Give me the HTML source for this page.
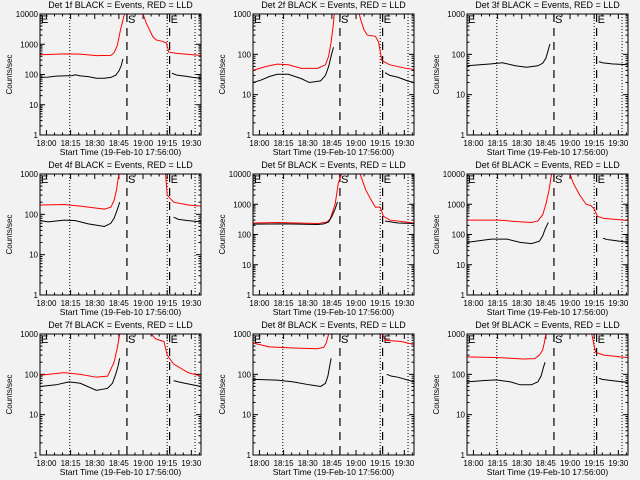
<!DOCTYPE html>
<html><head><meta charset="utf-8">
<style>
html,body{margin:0;padding:0;background:#f2f2f2;}
svg{display:block;font-family:"Liberation Sans",sans-serif;}
</style></head>
<body>
<svg id="c" width="640" height="480" viewBox="0 0 640 480">
<rect width="640" height="480" fill="#f2f2f2"/>
</svg>
<script>
// minutes since 17:56:00
const xTickLabels = ["18:00","18:15","18:30","18:45","19:00","19:15","19:30"];
const xTickMinutes = [4,19,34,49,64,79,94];
const dottedLines = [18.5, 79, 96.3];
const dashedLines = [54, 80.5];
const detectorNames = ["1f","2f","3f","4f","5f","6f","7f","8f","9f"];
const yMaxDecades = [4,3,3,3,4,4,3,3,3];

const p1BlackT=[0,5,10,15,20,22,25,30,35,40,44,47,49,50.5,51.5];
const p1BlackV=[80,82,88,90,92,98,90,85,75,75,80,95,130,200,330];
const p1PostT=[82,85,90,95,100];
const p1PostV=[110,95,88,80,75];
const p1RedT=[0,5,15,25,35,44,46,48,50,52,54,64,66,68,70,72,76,78.5,80,85,95,100];
const p1RedV=[450,460,480,470,420,430,520,900,3000,8000,20000,10000,5000,3000,1800,1400,1250,1100,550,500,450,430];

const p2BlackT=[0,5,10,15,22,30,35,42,45,47,48.5,50];
const p2BlackV=[20,23,28,32,32,25,20,22,30,50,90,150];
const p2PostT=[82,85,90,96,100];
const p2PostV=[35,30,27,22,20];
const p2RedT=[0,8,15,22,30,40,45,47,48.5,50,51,66,67,69,71,76,78,80,85,95,100];
const p2RedV=[40,50,57,55,45,45,55,90,200,600,2000,1000,700,400,300,280,200,70,55,45,42];

const p3BlackT=[0,15,22,30,37,44,47,49,50.5,51.5];
const p3BlackV=[52,58,62,52,48,52,60,80,130,180];
const p3PostT=[82,84,90,100];
const p3PostV=[66,62,58,55];
const p3RedT=[];
const p3RedV=[];

const p4BlackT=[0,5,15,22,30,40,44,46,48,49.5];
const p4BlackV=[70,65,72,70,58,50,60,80,130,200];
const p4PostT=[83,86,92,100];
const p4PostV=[85,75,70,65];
const p4RedT=[0,15,25,40,44,46,47.5,49,50,78,79,83,92,100];
const p4RedV=[170,175,160,135,150,220,400,1000,2000,1000,300,200,170,160];

const p5BlackT=[0,20,40,44,47,49,51,52.5];
const p5BlackV=[220,225,215,225,260,400,700,1200];
const p5PostT=[82,86,90,100];
const p5PostV=[280,260,240,230];
const p5RedT=[0,15,40,46,48,51,53,55,56,66.5,68,70,73,76,79,81,85,100];
const p5RedV=[240,250,230,260,330,1000,5000,10000,20000,10000,6000,3000,1500,800,800,400,300,240];

const p6BlackT=[0,15,25,33,40,45,47,48.5,50.5];
const p6BlackV=[55,70,70,55,50,60,90,150,250];
const p6PostT=[84.5,87,90,100];
const p6PostV=[75,68,65,55];
const p6RedT=[0,20,30,40,44,47,49,51,52.5,53.5,64,66,70,74,77,79,81,85,100];
const p6RedV=[300,300,270,250,280,450,1000,3000,10000,20000,10000,5000,2000,1000,900,700,400,340,290];

const p7BlackT=[0,10,18,25,35,42,45,47,48.5,49.5];
const p7BlackV=[50,55,65,60,40,45,60,100,160,250];
const p7PostT=[83,86,90,100];
const p7PostV=[70,65,60,50];
const p7RedT=[0,15,25,35,42,46,48,49.5,50.5,69,72,77,79,83,92,100];
const p7RedV=[95,110,100,85,90,200,450,1000,2000,1000,750,650,300,180,110,90];

const p8BlackT=[0,15,25,35,42,45,46.5,47.5,48.5];
const p8BlackV=[75,72,65,55,50,60,90,150,250];
const p8PostT=[83,86,90,100];
const p8PostV=[100,90,85,65];
const p8RedT=[0,10,25,40,44,45.5,47,48,80,80.5,82,92,100];
const p8RedV=[600,480,450,430,470,600,1000,2000,2000,1000,700,650,550];

const p9BlackT=[0,10,18,27,33,40,44,46,47.5,48.5];
const p9BlackV=[65,70,73,65,55,55,65,90,150,200];
const p9PostT=[82,84,90,100];
const p9PostV=[80,75,70,63];
const p9RedT=[0,20,35,42,45,47,48,49,50,77,77.5,79,80,85,100];
const p9RedV=[270,260,240,245,300,400,600,1000,1100,1100,1000,500,350,300,260];

const blackPre=[[p1BlackT,p1BlackV],[p2BlackT,p2BlackV],[p3BlackT,p3BlackV],[p4BlackT,p4BlackV],[p5BlackT,p5BlackV],[p6BlackT,p6BlackV],[p7BlackT,p7BlackV],[p8BlackT,p8BlackV],[p9BlackT,p9BlackV]];
const blackPost=[[p1PostT,p1PostV],[p2PostT,p2PostV],[p3PostT,p3PostV],[p4PostT,p4PostV],[p5PostT,p5PostV],[p6PostT,p6PostV],[p7PostT,p7PostV],[p8PostT,p8PostV],[p9PostT,p9PostV]];
const redSeries=[[p1RedT,p1RedV],[p2RedT,p2RedV],[p3RedT,p3RedV],[p4RedT,p4RedV],[p5RedT,p5RedV],[p6RedT,p6RedV],[p7RedT,p7RedV],[p8RedT,p8RedV],[p9RedT,p9RedV]];

const NS="http://www.w3.org/2000/svg";
const svg=document.getElementById('c');
function mk(tag,attrs,parent){const e=document.createElementNS(NS,tag);for(const k in attrs)e.setAttribute(k,attrs[k]);(parent||svg).appendChild(e);return e;}

for(let i=0;i<9;i++){
  const col=i%3,row=Math.floor(i/3);
  const L=[40,253,467][col], W=161, T=row*160+14, B=row*160+135, H=B-T;
  const maxD=yMaxDecades[i];
  const xs=t=>L+t*W/100;
  const ys=v=>B-Math.log10(Math.max(v,1e-3))/maxD*H;
  const g=mk('g',{});
  
  
  const cp=mk('clipPath',{id:'cp'+i},g);
  mk('rect',{x:L,y:T,width:W,height:H},cp);
  const tt=mk('text',{x:L+W/2,y:T-6,'text-anchor':'middle','font-size':'9'},g);
  tt.textContent='Det '+detectorNames[i]+' BLACK = Events, RED = LLD';
  
  
  const yl=mk('text',{x:0,y:0,'text-anchor':'middle','font-size':'8',transform:`translate(${L-28},${(T+B)/2}) rotate(-90)`},g);
  yl.textContent='Counts/sec';
  
  
  const xt=mk('text',{x:L+W/2,y:B+20,'text-anchor':'middle','font-size':'8.5'},g);
  xt.textContent='Start Time (19-Feb-10 17:56:00)';
  
  
  for(let d=0;d<=maxD;d++){
    const y=ys(Math.pow(10,d));
    mk('line',{x1:L,x2:L+5,y1:y,y2:y,stroke:'#000','stroke-width':1},g);
    mk('line',{x1:L+W,x2:L+W-5,y1:y,y2:y,stroke:'#000','stroke-width':1},g);
    const lb=mk('text',{x:L-2,y:y+3,'text-anchor':'end','font-size':'8'},g);
    lb.textContent=String(Math.pow(10,d));
    
    
    if(d<maxD)for(let m=2;m<10;m++){const yy=ys(m*Math.pow(10,d));
      mk('line',{x1:L,x2:L+2.5,y1:yy,y2:yy,stroke:'#000','stroke-width':1},g);
      mk('line',{x1:L+W,x2:L+W-2.5,y1:yy,y2:yy,stroke:'#000','stroke-width':1},g);}
  }
  for(let m=0;m<=100;m++){
    if((m-4)%15===0&&m>=4){const x=xs(m);
      mk('line',{x1:x,x2:x,y1:B,y2:B-5,stroke:'#000'},g);mk('line',{x1:x,x2:x,y1:T,y2:T+5,stroke:'#000'},g);}
    else if((m-4)%5===0&&m>=4){const x=xs(m);
      mk('line',{x1:x,x2:x,y1:B,y2:B-2.5,stroke:'#000'},g);mk('line',{x1:x,x2:x,y1:T,y2:T+2.5,stroke:'#000'},g);}
  }
  xTickLabels.forEach((s,k)=>{const lb=mk('text',{x:xs(xTickMinutes[k]),y:B+11,'text-anchor':'middle','font-size':'8'},g);
    lb.textContent=s;
    
    });
  dottedLines.forEach(t=>{const l=mk('line',{x1:xs(t),x2:xs(t),y1:T,y2:B,stroke:'#000','stroke-dasharray':'1,2'},g);
    
    });
  dashedLines.forEach(t=>{const l=mk('line',{x1:xs(t),x2:xs(t),y1:T,y2:B,stroke:'#000','stroke-dasharray':'8,6','stroke-width':1.2},g);
    
    });
  [['E',L+1],['S',xs(dashedLines[0])+1],['E',xs(dashedLines[1])+1]].forEach(([s,x])=>{
    const m=mk('text',{x:x,y:T+9,'font-size':'11'},g);m.textContent=s;
    
    });
  const cg=mk('g',{'clip-path':`url(#cp${i})`},g);
  const [rt,rv]=redSeries[i];
  if(rt.length){const p=mk('polyline',{points:rt.map((t,k)=>xs(t)+','+ys(rv[k])).join(' '),fill:'none',stroke:'#ff0000','stroke-width':1},cg);
    
    }
  [blackPre[i],blackPost[i]].forEach(([bt,bv])=>{
    const p=mk('polyline',{points:bt.map((t,k)=>xs(t)+','+ys(bv[k])).join(' '),fill:'none',stroke:'#000','stroke-width':1},cg);
    
    });
  mk('rect',{x:L,y:T,width:W,height:H,fill:'none',stroke:'#000','stroke-width':1},g);
}
</script>
</body></html>
